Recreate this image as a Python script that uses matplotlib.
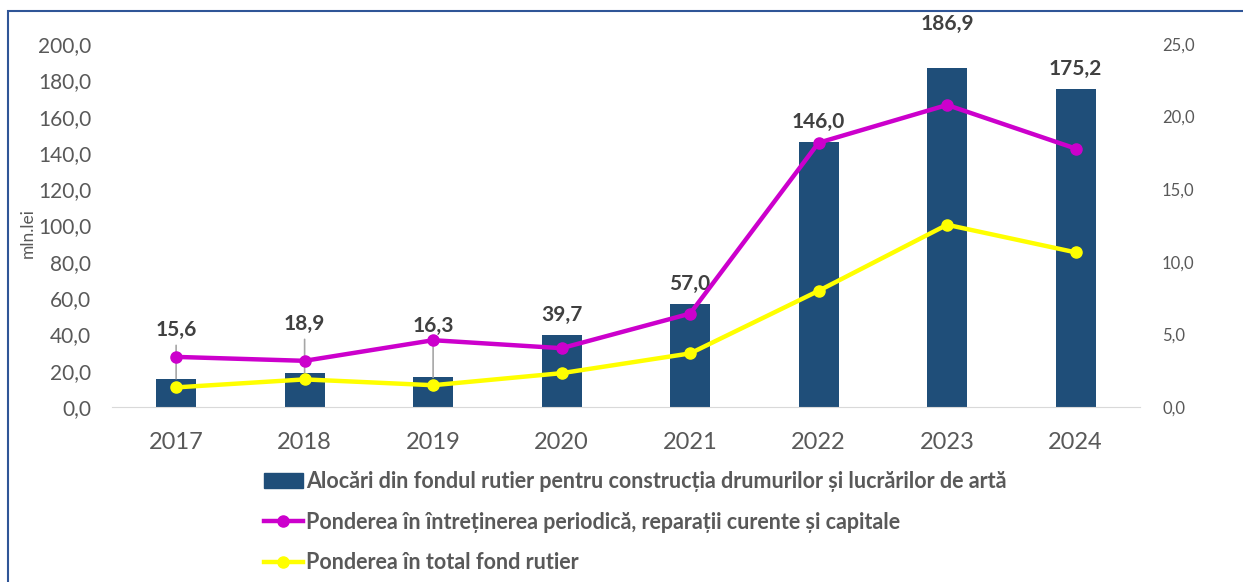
import matplotlib.pyplot as plt
import matplotlib.patches as mpatches
from matplotlib.lines import Line2D
from matplotlib.ticker import FuncFormatter

plt.rcParams['font.family'] = ['Lato', 'DejaVu Sans']

years = ['2017', '2018', '2019', '2020', '2021', '2022', '2023', '2024']
alocari = [15.6, 18.9, 16.3, 39.7, 57.0, 146.0, 186.9, 175.2]
pond_intretinere = [3.45, 3.18, 4.6, 4.05, 6.43, 18.2, 20.8, 17.8]
pond_total = [1.35, 1.9, 1.5, 2.33, 3.69, 8.0, 12.55, 10.65]

# label offsets (points above bar top) and whether a leader line is drawn
label_dy = [28, 28, 30, 7, 7, 7, 24, 7]
leader = [True, True, True, False, False, False, False, False]

bar_color = '#1f4e79'
mag = '#cc00cc'
yel = '#ffff00'
txt = '#595959'

fig = plt.figure(figsize=(12.43, 5.82), dpi=100)
ax = fig.add_axes([0.090, 0.3007, 0.827, 0.6237])
ax2 = ax.twinx()

x = list(range(len(years)))
ax.bar(x, alocari, width=0.31, color=bar_color, zorder=2)
ax.set_xlim(-0.5, 7.5)
ax.set_ylim(0, 200)
ax.set_yticks(range(0, 201, 20))
ax.yaxis.set_major_formatter(FuncFormatter(lambda v, p: f'{v:.1f}'.replace('.', ',')))
ax.set_xticks(x)
ax.set_xticklabels(years)
ax.tick_params(axis='x', length=0, labelsize=17, colors=txt, pad=18)
ax.tick_params(axis='y', length=0, labelsize=15, colors=txt, pad=15)
ax.set_ylabel('mln.lei', fontsize=12.5, color=txt)
ax.yaxis.set_label_coords(-0.074, 0.48)

for s in ['top', 'left', 'right']:
    ax.spines[s].set_visible(False)
    ax2.spines[s].set_visible(False)
ax.spines['bottom'].set_color('#d9d9d9')
ax2.spines['bottom'].set_visible(False)

ax2.plot(x, pond_intretinere, color=mag, lw=3.2, marker='o', ms=8, zorder=3)
ax2.plot(x, pond_total, color=yel, lw=3.2, marker='o', ms=8, zorder=3)
ax2.set_ylim(0, 25)
ax2.set_yticks(range(0, 26, 5))
ax2.yaxis.set_major_formatter(FuncFormatter(lambda v, p: f'{v:.1f}'.replace('.', ',')))
ax2.tick_params(axis='y', length=0, labelsize=12, colors=txt, pad=16)

for i, v in enumerate(alocari):
    lab = f'{v:.1f}'.replace('.', ',')
    arrow = None
    if leader[i]:
        arrow = dict(arrowstyle='-', color='#a6a6a6', lw=1.2, shrinkA=2, shrinkB=0)
    ax.annotate(lab, xy=(i, v), xytext=(0, label_dy[i]), textcoords='offset points',
                ha='center', va='bottom', fontsize=15, fontweight='bold', color='#404040',
                arrowprops=arrow, zorder=4, annotation_clip=False)

handles = [
    mpatches.Patch(color=bar_color),
    Line2D([], [], color=mag, lw=3.2, marker='o', ms=8),
    Line2D([], [], color=yel, lw=3.2, marker='o', ms=8),
]
labels = [
    'Alocări din fondul rutier pentru construcția drumurilor și lucrărilor de artă',
    'Ponderea în întreținerea periodică, reparații curente și capitale',
    'Ponderea în total fond rutier',
]
leg = fig.legend(handles, labels, loc='upper left', bbox_to_anchor=(0.2055, 0.205),
                 frameon=False, fontsize=15.5, handlelength=1.8, handletextpad=0.15,
                 labelspacing=0.9, borderaxespad=0)
for t in leg.get_texts():
    t.set_color(txt)
    t.set_fontweight('bold')

border = mpatches.Rectangle((8 / 1243, -0.1), 1.2, 1 - 11 / 582 + 0.1,
                            transform=fig.transFigure, fill=False,
                            edgecolor='#2f5597', lw=1.5, clip_on=False)
fig.patches.append(border)

fig.savefig('out.png', dpi=100)
